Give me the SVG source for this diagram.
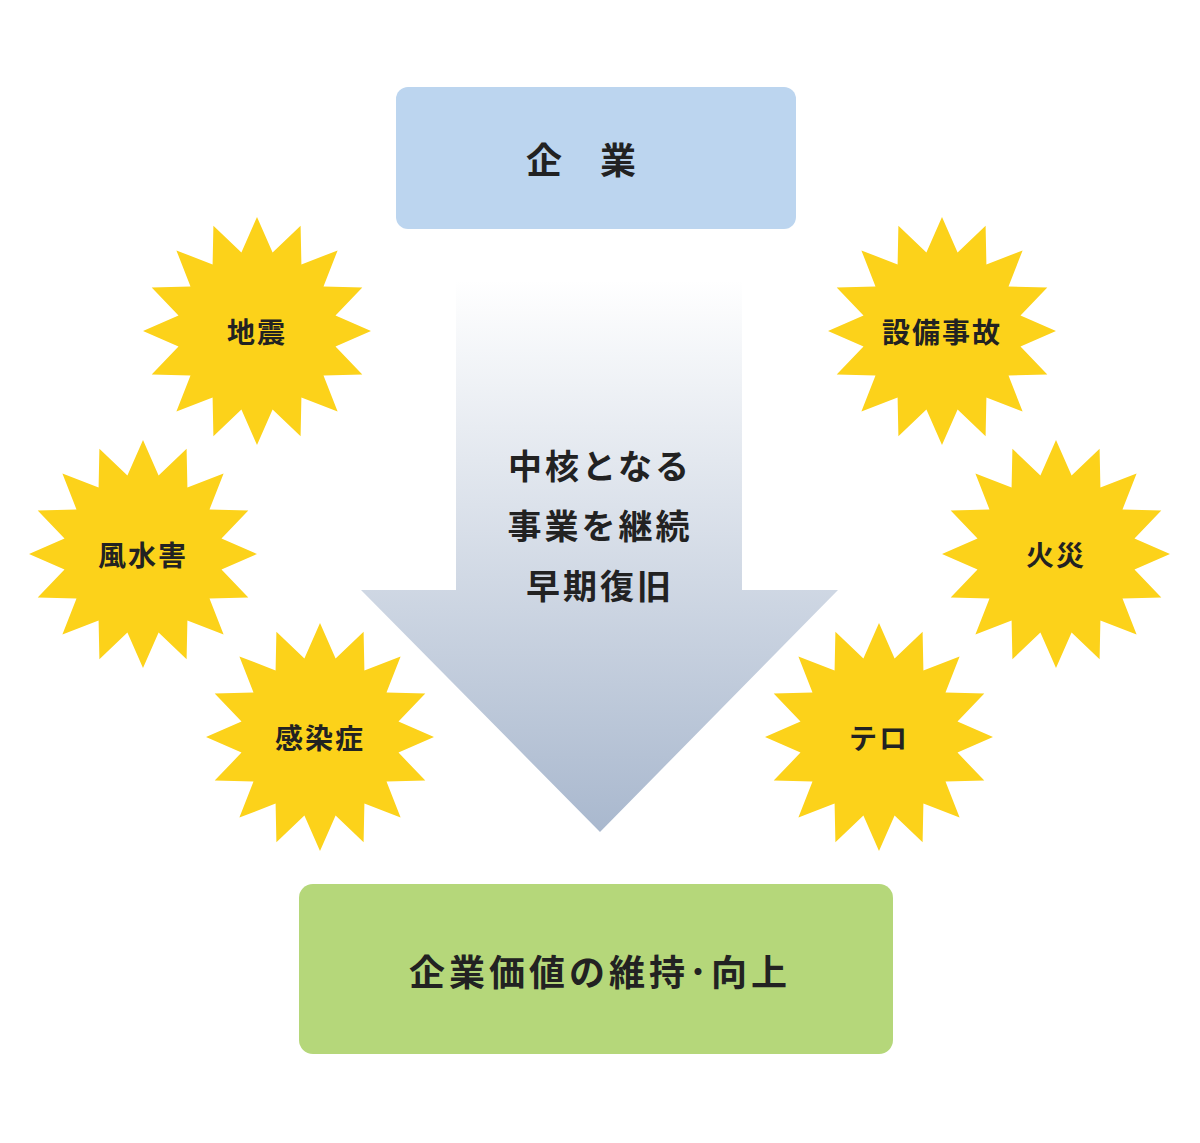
<svg xmlns="http://www.w3.org/2000/svg" width="1200" height="1143" viewBox="0 0 1200 1143">
<defs>
<linearGradient id="ag" x1="0" y1="280" x2="0" y2="832" gradientUnits="userSpaceOnUse"><stop offset="0" stop-color="#ffffff"/><stop offset="1" stop-color="#a9b8ce"/></linearGradient>
<path id="star" d="M0,-114 L15.6,-78.5 L43.6,-105.3 L44.4,-66.5 L80.6,-80.6 L66.5,-44.4 L105.3,-43.6 L78.5,-15.6 L114,0 L78.5,15.6 L105.3,43.6 L66.5,44.4 L80.6,80.6 L44.4,66.5 L43.6,105.3 L15.6,78.5 L0,114 L-15.6,78.5 L-43.6,105.3 L-44.4,66.5 L-80.6,80.6 L-66.5,44.4 L-105.3,43.6 L-78.5,15.6 L-114,0 L-78.5,-15.6 L-105.3,-43.6 L-66.5,-44.4 L-80.6,-80.6 L-44.4,-66.5 L-43.6,-105.3 L-15.6,-78.5 Z"/>
</defs>
<style>
text{font-family:"Noto Sans CJK JP","Noto Sans",sans-serif;font-weight:bold;fill:#222;text-anchor:middle;dominant-baseline:central}
.s{fill:#fcd21a}
.t{font-size:28px;letter-spacing:2px}
</style>
<rect width="1200" height="1143" fill="#fff"/>
<g id="connectors">
<path d="M456,280 H742 V590 H838 L600,832 L361,590 H456 Z" fill="url(#ag)"/>
</g>
<g id="top"><rect x="396" y="87" width="400" height="142" rx="12" fill="#bcd5ef"/><text x="600" y="158" font-size="36" letter-spacing="38">企業</text></g>
<g id="center"><text x="600" y="464" font-size="34" letter-spacing="3">中核となる</text><text x="600" y="524" font-size="34" letter-spacing="3">事業を継続</text><text x="600" y="584" font-size="34" letter-spacing="3">早期復旧</text></g>
<g id="bottom"><rect x="299" y="884" width="594" height="170" rx="14" fill="#b5d77a"/><text x="600" y="970" font-size="36" letter-spacing="4">企業価値の維持･向上</text></g>
<g id="s1"><use href="#star" class="s" x="257" y="331"/><text class="t" x="257" y="331">地震</text></g>
<g id="s2"><use href="#star" class="s" x="143" y="554"/><text class="t" x="143" y="554">風水害</text></g>
<g id="s3"><use href="#star" class="s" x="320" y="737"/><text class="t" x="320" y="737">感染症</text></g>
<g id="s4"><use href="#star" class="s" x="942" y="331"/><text class="t" x="942" y="331">設備事故</text></g>
<g id="s5"><use href="#star" class="s" x="1056" y="554"/><text class="t" x="1056" y="554">火災</text></g>
<g id="s6"><use href="#star" class="s" x="879" y="737"/><text class="t" x="879" y="737">テロ</text></g>
</svg>
